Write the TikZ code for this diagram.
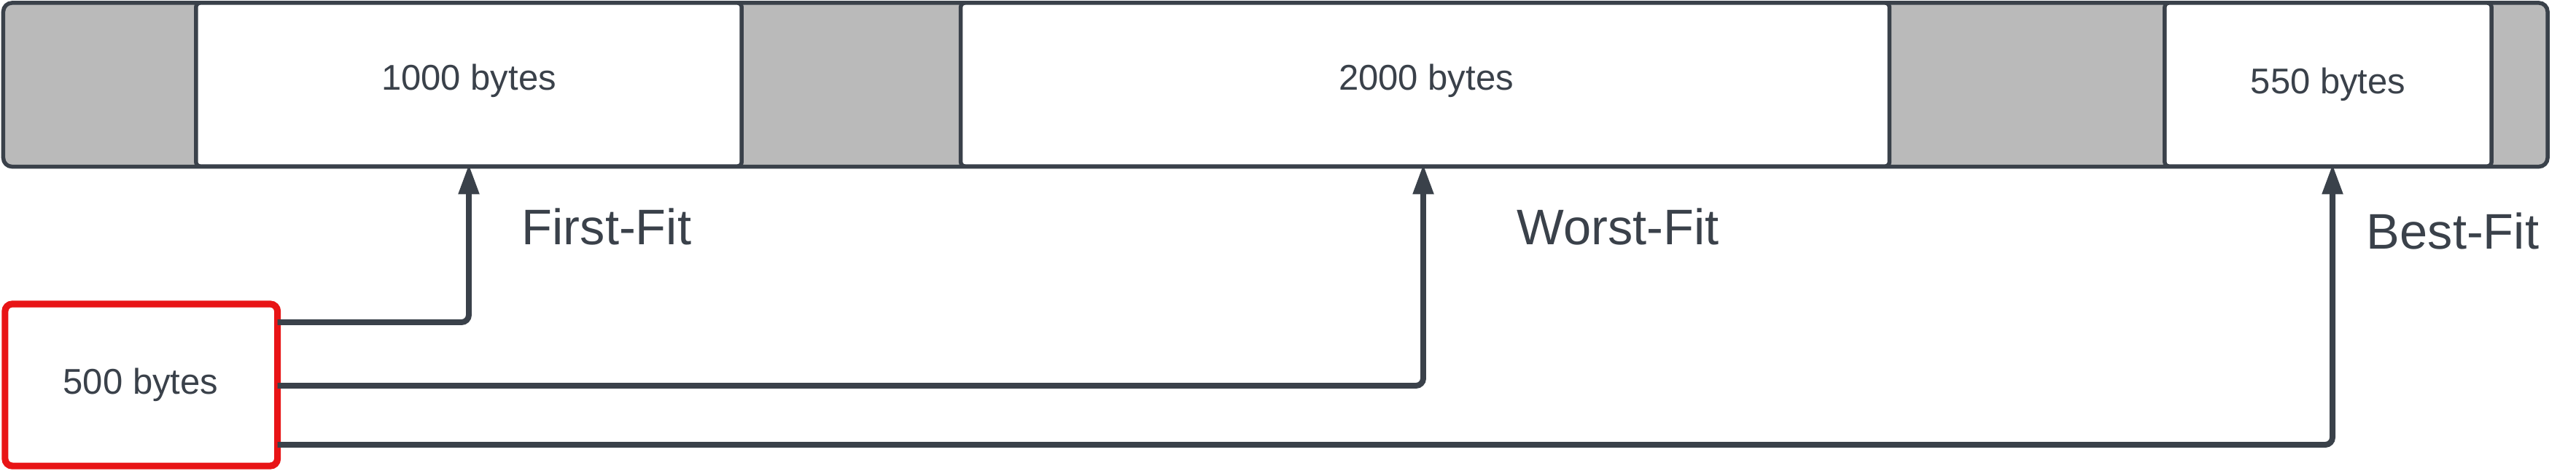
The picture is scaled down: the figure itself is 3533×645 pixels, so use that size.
\documentclass[tikz,border=0pt]{standalone}
\usepackage{fontspec}
\setmainfont{Liberation Sans}
\usetikzlibrary{arrows.meta}
\definecolor{ink}{HTML}{3A414A}
\definecolor{slot}{HTML}{BABABA}
\definecolor{hot}{HTML}{E81416}
\begin{document}
\begin{tikzpicture}[x=0.01cm,y=-0.01cm,
  bar/.style={draw=ink, fill=slot, line width=1.56pt, rounded corners=0.12cm, inner sep=0, outer sep=0, minimum height=2.245cm},
  membox/.style={draw=ink, fill=white, line width=1.56pt, rounded corners=0.06cm, inner sep=0, outer sep=0, minimum height=2.24cm},
  reqbox/.style={draw=hot, fill=white, line width=2.6pt, rounded corners=0.1cm, inner sep=0, outer sep=0},
  small/.style={text=ink, font=\fontsize{13.94}{16}\selectfont, inner sep=0},
  big/.style={text=ink, font=\fontsize{19.5}{23}\selectfont, inner sep=0},
  conn/.style={draw=ink, line width=2.25pt, rounded corners=0.1cm, shorten >=-0.8pt, -{Triangle[length=0.41cm,width=0.27cm]}}
]
\useasboundingbox (0,0) rectangle (3533,645);
\node[bar, minimum width=34.875cm] (mem) at (1749.25,116.25) {};
\node[membox, minimum width=7.48cm] (b1000) at (643,116) {};
\node[membox, minimum width=12.73cm] (b2000) at (1954.5,116) {};
\node[membox, minimum width=4.48cm] (b550) at (3193,116) {};
\node[reqbox, minimum width=3.735cm, minimum height=2.22cm] (req) at (193.75,528) {};
\node[small, anchor=base] (t1000) at (643,123) {1000 bytes};
\node[small, anchor=base] (t2000) at (1956,123) {2000 bytes};
\node[small, anchor=base] (t550) at (3193,128) {550 bytes};
\node[small, anchor=base] (t500) at (193,540) {500 bytes};
\node[big, anchor=base] (first) at (832,335) {First-Fit};
\node[big, anchor=base] (worst) at (2219,335) {Worst-Fit};
\node[big, anchor=base] (best) at (3364,341) {Best-Fit};
\coordinate (y1) at (0,442);
\coordinate (y2) at (0,529);
\coordinate (y3) at (0,610);
\draw[conn] (req.east |- y1) -| (b1000.south);
\draw[conn] (req.east |- y2) -| ([xshift=-0.025cm]b2000.south);
\draw[conn] (req.east |- y3) -| ([xshift=0.06cm]b550.south);
\end{tikzpicture}
\end{document}
